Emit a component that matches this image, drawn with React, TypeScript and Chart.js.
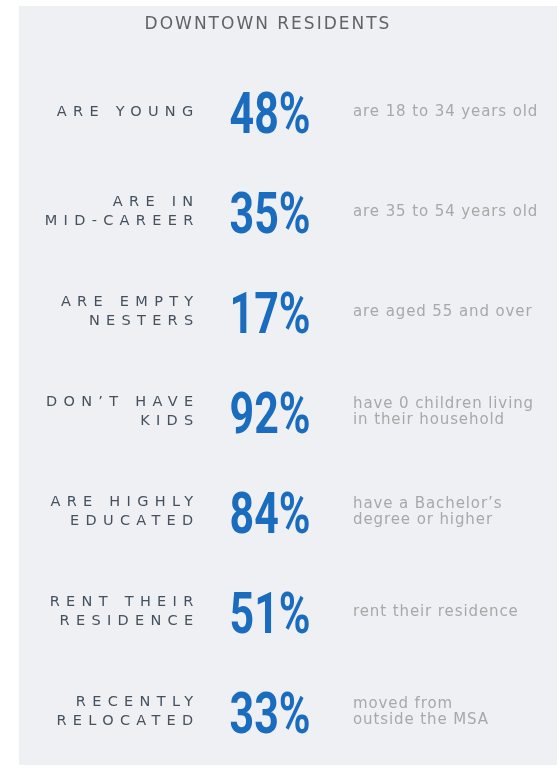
import React, { useEffect, useRef } from 'react';
import { Chart, registerables } from 'chart.js';

Chart.register(...registerables);

const title = 'DOWNTOWN RESIDENTS';

const categories: (string | string[])[] = [
  'ARE YOUNG',
  ['ARE IN', 'MID-CAREER'],
  ['ARE EMPTY', 'NESTERS'],
  ['DON\u2019T HAVE', 'KIDS'],
  ['ARE HIGHLY', 'EDUCATED'],
  ['RENT THEIR', 'RESIDENCE'],
  ['RECENTLY', 'RELOCATED'],
];

const percentages: number[] = [48, 35, 17, 92, 84, 51, 33];

const descriptions: string[][] = [
  ['are 18 to 34 years old'],
  ['are 35 to 54 years old'],
  ['are aged 55 and over'],
  ['have 0 children living', 'in their household'],
  ['have a Bachelor\u2019s', 'degree or higher'],
  ['rent their residence'],
  ['moved from', 'outside the MSA'],
];

const LABEL_SPACING = 6.3;

const infographicPlugin = {
  id: 'infographic',
  beforeDraw(chart: any) {
    const ctx = chart.ctx as CanvasRenderingContext2D;
    ctx.save();
    ctx.fillStyle = '#ffffff';
    ctx.fillRect(0, 0, chart.width, chart.height);
    ctx.fillStyle = '#eff0f3';
    ctx.fillRect(19, 6, chart.width - 19, 759);
    ctx.restore();
    (ctx as any).letterSpacing = LABEL_SPACING + 'px';
  },
  afterDatasetsDraw(chart: any) {
    const ctx = chart.ctx as CanvasRenderingContext2D;
    const area = chart.chartArea;
    const meta = chart.getDatasetMeta(0);
    ctx.save();

    // title
    (ctx as any).letterSpacing = '2px';
    ctx.font = '17px "DejaVu Sans"';
    ctx.fillStyle = '#636363';
    ctx.textAlign = 'center';
    ctx.textBaseline = 'middle';
    ctx.fillText(title, 267 + 1, 25);

    const values = chart.data.datasets[0].data as number[];
    meta.data.forEach((el: any, i: number) => {
      const y = el.y;
      // big percentage
      ctx.save();
      (ctx as any).letterSpacing = '0px';
      ctx.translate(area.left + 63, y);
      ctx.scale(0.74, 1);
      ctx.font = 'bold 58px Roboto';
      ctx.fillStyle = '#1a6cbf';
      ctx.textAlign = 'center';
      ctx.textBaseline = 'alphabetic';
      ctx.fillText(values[i] + '%', 0, 20.5);
      ctx.restore();

      // description
      const lines = descriptions[i];
      ctx.save();
      (ctx as any).letterSpacing = '0.9px';
      ctx.font = '15px "DejaVu Sans"';
      ctx.fillStyle = '#a8a8a8';
      ctx.textAlign = 'left';
      ctx.textBaseline = 'middle';
      const lh = 16;
      const start = y - ((lines.length - 1) * lh) / 2;
      lines.forEach((t, k) => ctx.fillText(t, area.left + 146, start + k * lh));
      ctx.restore();
    });

    ctx.restore();
    (ctx as any).letterSpacing = '0px';
  },
};

export default function App() {
  const ref = useRef<HTMLCanvasElement>(null);
  useEffect(() => {
    if (!ref.current) return;
    const chart = new Chart(ref.current, {
      type: 'bar',
      data: {
        labels: categories as any,
        datasets: [
          {
            data: percentages,
            backgroundColor: 'rgba(0,0,0,0)',
            borderWidth: 0,
          },
        ],
      },
      options: {
        responsive: false,
        animation: false,
        indexAxis: 'y',
        layout: { padding: { top: 62, bottom: 7, left: 0, right: 0 } },
        plugins: {
          legend: { display: false },
          tooltip: { enabled: false },
          title: { display: false },
        },
        scales: {
          x: { display: false, min: 0, max: 100 },
          y: {
            position: 'left',
            grid: { display: false, drawTicks: false },
            border: { display: false },
            afterFit: (scale: any) => {
              scale.width = 207;
            },
            ticks: {
              padding: 7.5,
              color: '#45525e',
              font: { family: '"DejaVu Sans"', size: 14.5, lineHeight: 1.31 },
            },
          },
        },
      },
      plugins: [infographicPlugin],
    });
    return () => chart.destroy();
  }, []);

  return (
    <div style={{ position: 'fixed', left: 0, top: 0, width: 557, height: 779, background: '#fff' }}>
      <canvas ref={ref} width={557} height={779} style={{ display: 'block' }} />
    </div>
  );
}
